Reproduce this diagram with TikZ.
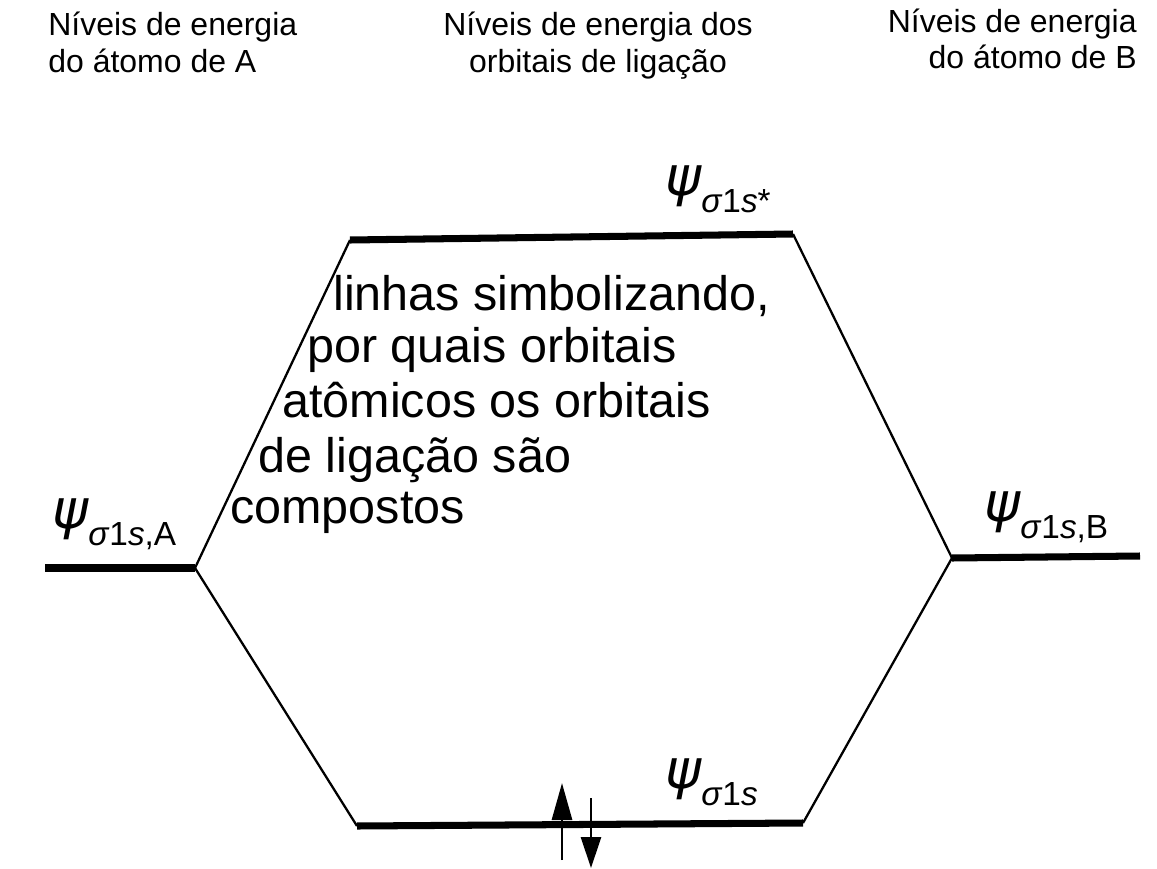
\documentclass[tikz,border=0pt]{standalone}
\usepackage{fontspec}
\setmainfont{Liberation Sans}
\newfontfamily\psifont{DejaVu Sans}
\usetikzlibrary{arrows.meta}
\tikzstyle{level} = [line width=4pt]
\tikzstyle{link} = [line width=1.3pt]
\tikzstyle{spin} = [line width=1.6pt]
\tikzstyle{head} = [font=\fontsize{18.2}{22}\selectfont, inner sep=0pt]
\tikzstyle{note} = [font=\fontsize{27.6}{32}\selectfont, anchor=base west, inner sep=0pt]
\tikzstyle{orb} = [anchor=base west, inner sep=0pt]
\newcommand{\psiorb}[1]{{\fontsize{31}{34}\psifont\itshape ψ}\raisebox{-0.34cm}{\fontsize{19}{22}\selectfont #1}}

\begin{document}
\begin{tikzpicture}[x=0.02cm,y=-0.02cm]
    \useasboundingbox (0,0) rectangle (1157,869);
    % titles
    \node (headA1) [head, anchor=base west] at (48,35) {Níveis de energia};
    \node (headA2) [head, anchor=base west] at (48,72) {do átomo de A};
    \node (headM1) [head, anchor=base] at (598,35) {Níveis de energia dos};
    \node (headM2) [head, anchor=base] at (598,72) {orbitais de ligação};
    \node (headB1) [head, anchor=base east] at (1137,32) {Níveis de energia};
    \node (headB2) [head, anchor=base east] at (1137,68) {do átomo de B};

    % energy levels
    \coordinate (a1) at (45,568);  \coordinate (a2) at (195,568);
    \coordinate (s1) at (350,240); \coordinate (s2) at (793,234);
    \coordinate (b1) at (952,558); \coordinate (b2) at (1140,556);
    \coordinate (g1) at (357,826); \coordinate (g2) at (803,823);
    \draw[level] (a1) -- (a2);
    \draw[level] (s1) -- (s2);
    \draw[level] (b1) -- (b2);
    \draw[level] (g1) -- (g2);

    \draw[link] (a2) -- (s1);
    \draw[link] (a2) -- (g1);
    \draw[link] (s2) -- (b1);
    \draw[link] (g2) -- (b1);

    % labels
    \node (psiS) [orb] at (665,195) {\psiorb{\textit{σ}1\textit{s}*}};
    \node (psiA) [orb] at (52,528) {\psiorb{\textit{σ}1\textit{s},A}};
    \node (psiB) [orb] at (984,521) {\psiorb{\textit{σ}1\textit{s},B}};
    \node (psiG) [orb] at (665,788) {\psiorb{\textit{σ}1\textit{s}}};

    \node (txt1) [note] at (333,310) {linhas simbolizando,};
    \node (txt2) [note] at (307,362) {por quais orbitais};
    \node (txt3) [note] at (282,417) {atômicos os orbitais};
    \node (txt4) [note] at (258,472) {de ligação são};
    \node (txt5) [note] at (230,523) {compostos};

    % electrons
    \coordinate (up1) at (562,860); \coordinate (up2) at (562,783);
    \coordinate (dn1) at (591,798); \coordinate (dn2) at (591,868);
    \draw[spin, -{Triangle[length=0.74cm, width=0.4cm]}] (up1) -- (up2);
    \draw[spin, -{Triangle[length=0.62cm, width=0.4cm]}] (dn1) -- (dn2);
\end{tikzpicture}
\end{document}
